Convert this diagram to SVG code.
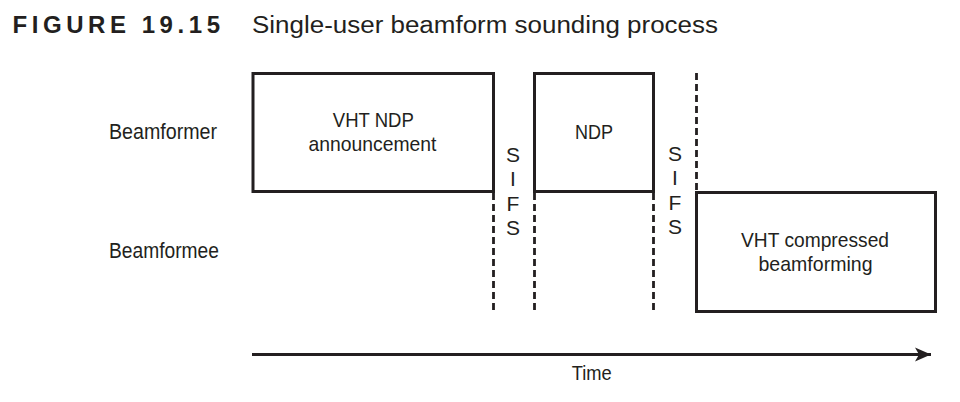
<svg xmlns="http://www.w3.org/2000/svg" width="960" height="402" viewBox="0 0 960 402">
  <style>
    .t { font-family: "Liberation Sans", Arial, sans-serif; fill: #231f20; }
    .lbl { font-size: 22px; }
    .box { fill: none; stroke: #231f20; stroke-width: 3; }
    .dash { stroke: #231f20; stroke-width: 2.8; stroke-dasharray: 7 4; fill: none; }
    .sifs { font-size: 21px; text-anchor: middle; }
    .mid { text-anchor: middle; }
  </style>
  <defs>
    <marker id="arrow" markerUnits="userSpaceOnUse" markerWidth="18" markerHeight="16" refX="16" refY="8" orient="auto">
      <path d="M0,1 L16,8 L0,15 L4,8 Z" fill="#231f20"/>
    </marker>
  </defs>
  <rect width="960" height="402" fill="#ffffff"/>

  <g id="title">
    <text class="t" x="12.5" y="33.3" font-size="24" font-weight="bold" textLength="207.5" lengthAdjust="spacing">FIGURE 19.15</text>
    <text class="t" x="252" y="33.3" font-size="23.5" textLength="466" lengthAdjust="spacingAndGlyphs">Single-user beamform sounding process</text>
  </g>

  <g id="beamformer-label">
    <text class="t lbl" x="109" y="139" textLength="108" lengthAdjust="spacingAndGlyphs">Beamformer</text>
  </g>
  <g id="beamformee-label">
    <text class="t lbl" x="109" y="258" textLength="110" lengthAdjust="spacingAndGlyphs">Beamformee</text>
  </g>

  <g id="ndp-announcement">
    <rect class="box" x="253" y="73.5" width="240.5" height="118"/>
    <text class="t mid" x="373.3" y="127" font-size="21" textLength="81" lengthAdjust="spacingAndGlyphs">VHT NDP</text>
    <text class="t mid" x="372.5" y="151" font-size="21" textLength="128" lengthAdjust="spacingAndGlyphs">announcement</text>
  </g>

  <g id="ndp">
    <rect class="box" x="534.5" y="73.5" width="119" height="118"/>
    <text class="t mid" x="594" y="139" font-size="21" textLength="38" lengthAdjust="spacingAndGlyphs">NDP</text>
  </g>

  <g id="compressed-beamforming">
    <rect class="box" x="696.5" y="192.5" width="239" height="119"/>
    <text class="t mid" x="815" y="247" font-size="21" textLength="148" lengthAdjust="spacingAndGlyphs">VHT compressed</text>
    <text class="t mid" x="815.5" y="271" font-size="21" textLength="114" lengthAdjust="spacingAndGlyphs">beamforming</text>
  </g>

  <g id="sifs-1">
    <text class="t sifs" x="513" y="162">S</text>
    <text class="t sifs" x="513" y="186">I</text>
    <text class="t sifs" x="513" y="211">F</text>
    <text class="t sifs" x="513" y="235">S</text>
  </g>
  <g id="sifs-2">
    <text class="t sifs" x="675" y="160.5">S</text>
    <text class="t sifs" x="675" y="185">I</text>
    <text class="t sifs" x="675" y="209.5">F</text>
    <text class="t sifs" x="675" y="234">S</text>
  </g>

  <g id="connectors">
    <line class="dash" x1="493.5" y1="193" x2="493.5" y2="312"/>
    <line class="dash" x1="534.5" y1="193" x2="534.5" y2="312"/>
    <line class="dash" x1="653.5" y1="193" x2="653.5" y2="312"/>
    <line class="dash" x1="696.5" y1="73" x2="696.5" y2="191"/>
    <line x1="252" y1="354.5" x2="931" y2="354.5" stroke="#231f20" stroke-width="3" marker-end="url(#arrow)"/>
  </g>

  <g id="time-label">
    <text class="t mid" x="591.7" y="380" font-size="21" textLength="40" lengthAdjust="spacingAndGlyphs">Time</text>
  </g>
</svg>
